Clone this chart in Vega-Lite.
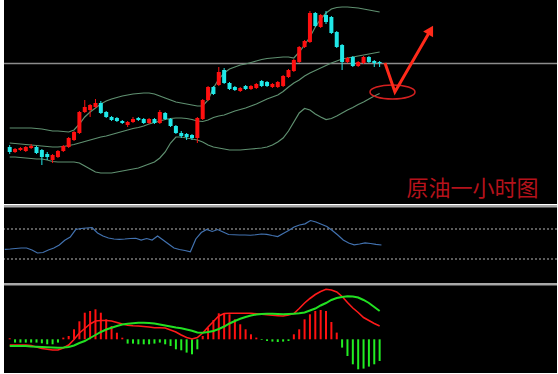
{
  "$schema": "https://vega.github.io/schema/vega-lite/v6.json",
  "background": "#ffffff",
  "padding": {"left": 2, "right": 3, "top": 0, "bottom": 2},
  "spacing": 0,
  "config": {"view": {"stroke": null, "fill": "#000000"}},
  "datasets": {
    "k": [
      {"i":0,"o":57,"c":52,"h":59,"l":50,"up":76,"mid":61,"lo":47,"rsi":42.9,"macd":-5.7,"sig":-6.7,"hist":1},
      {"i":1,"o":52,"c":55,"h":56,"l":51,"up":76,"mid":60.5,"lo":47,"rsi":43.3,"macd":-5.7,"sig":-6.7,"hist":-3.3},
      {"i":2,"o":54,"c":56,"h":57,"l":53,"up":76,"mid":60,"lo":46.5,"rsi":44.0,"macd":-5.7,"sig":-6.7,"hist":-3.3},
      {"i":3,"o":53,"c":57,"h":58,"l":52,"up":76,"mid":59.5,"lo":46,"rsi":44.7,"macd":-5.7,"sig":-6.7,"hist":-3.3},
      {"i":4,"o":56,"c":58,"h":60,"l":55,"up":76,"mid":59,"lo":45.5,"rsi":44.7,"macd":-6.2,"sig":-7.2,"hist":-3.3},
      {"i":5,"o":57,"c":51,"h":58,"l":50,"up":75.5,"mid":58.5,"lo":45,"rsi":42.0,"macd":-7.7,"sig":-7.5,"hist":-3.3},
      {"i":6,"o":54,"c":47,"h":55,"l":39,"up":75,"mid":58,"lo":45,"rsi":38.0,"macd":-9.2,"sig":-7.7,"hist":-4},
      {"i":7,"o":50,"c":47,"h":52,"l":44,"up":74,"mid":57.5,"lo":44,"rsi":38.7,"macd":-10,"sig":-7.9,"hist":-5},
      {"i":8,"o":44,"c":49,"h":50,"l":41,"up":73,"mid":57,"lo":42.5,"rsi":42.0,"macd":-10.7,"sig":-8.2,"hist":-5},
      {"i":9,"o":47,"c":53,"h":54,"l":46,"up":73,"mid":57,"lo":42,"rsi":44.7,"macd":-10.7,"sig":-8.4,"hist":-3.3},
      {"i":10,"o":53,"c":58,"h":59,"l":52,"up":72.5,"mid":57.5,"lo":42,"rsi":48.7,"macd":-8.7,"sig":-8.2,"hist":1.7},
      {"i":11,"o":57,"c":66,"h":67,"l":56,"up":72,"mid":58.5,"lo":42,"rsi":54.9,"macd":-5.7,"sig":-7.7,"hist":3.3},
      {"i":12,"o":64,"c":72,"h":73,"l":63,"up":74,"mid":59.5,"lo":42,"rsi":59.3,"macd":-0.2,"sig":-6.2,"hist":10},
      {"i":13,"o":71,"c":92,"h":93,"l":70,"up":80,"mid":61,"lo":41,"rsi":69.3,"macd":6.3,"sig":-3.7,"hist":18},
      {"i":14,"o":92,"c":97,"h":104,"l":91,"up":87,"mid":62.5,"lo":38,"rsi":70.7,"macd":10.8,"sig":-1.7,"hist":26.6},
      {"i":15,"o":94,"c":99,"h":100,"l":87,"up":92,"mid":64,"lo":35,"rsi":71.3,"macd":15.3,"sig":1.3,"hist":28.3},
      {"i":16,"o":97,"c":101,"h":105,"l":96,"up":96,"mid":65.5,"lo":32,"rsi":72.0,"macd":18.3,"sig":4.3,"hist":30},
      {"i":17,"o":101,"c":91,"h":103,"l":90,"up":100,"mid":67,"lo":31,"rsi":64.7,"macd":18.8,"sig":7.3,"hist":26.6},
      {"i":18,"o":92,"c":87,"h":93,"l":86,"up":103,"mid":68,"lo":31,"rsi":60.7,"macd":18.8,"sig":9.8,"hist":20},
      {"i":19,"o":87,"c":84,"h":88,"l":83,"up":105,"mid":69.5,"lo":31,"rsi":58.0,"macd":18.3,"sig":11.6,"hist":13.3},
      {"i":20,"o":86,"c":83,"h":87,"l":82,"up":106.5,"mid":71,"lo":32,"rsi":56.7,"macd":16.8,"sig":13.3,"hist":6.6},
      {"i":21,"o":83,"c":81,"h":84,"l":80,"up":108,"mid":72.5,"lo":33,"rsi":56.3,"macd":15.3,"sig":14.8,"hist":1.6},
      {"i":22,"o":79,"c":82,"h":83,"l":77,"up":109,"mid":74,"lo":34,"rsi":56.7,"macd":14.1,"sig":15.6,"hist":-4.3},
      {"i":23,"o":82,"c":85,"h":87,"l":81,"up":110,"mid":75.5,"lo":35,"rsi":57.3,"macd":13.6,"sig":16.1,"hist":-4.3},
      {"i":24,"o":86,"c":84,"h":87,"l":83,"up":110.5,"mid":76.5,"lo":36,"rsi":57.6,"macd":13.3,"sig":16.5,"hist":-5},
      {"i":25,"o":85,"c":81,"h":86,"l":80,"up":111,"mid":78,"lo":38,"rsi":55.3,"macd":12.8,"sig":16.6,"hist":-5},
      {"i":26,"o":81,"c":85,"h":86,"l":80,"up":111,"mid":80,"lo":40,"rsi":57.3,"macd":12.3,"sig":16.3,"hist":-5},
      {"i":27,"o":85,"c":81,"h":86,"l":80,"up":110,"mid":81.5,"lo":42,"rsi":55.3,"macd":11.6,"sig":15.8,"hist":-4.3},
      {"i":28,"o":81,"c":92,"h":94,"l":80,"up":108,"mid":83,"lo":46,"rsi":60.7,"macd":11.6,"sig":14.8,"hist":-3.3},
      {"i":29,"o":91,"c":85,"h":92,"l":84,"up":106,"mid":84.5,"lo":52,"rsi":55.3,"macd":11.3,"sig":13.8,"hist":-5},
      {"i":30,"o":85,"c":78,"h":86,"l":77,"up":104,"mid":85.5,"lo":61,"rsi":50.0,"macd":9.3,"sig":12.8,"hist":-6.7},
      {"i":31,"o":78,"c":71,"h":79,"l":70,"up":102,"mid":86,"lo":67,"rsi":44.7,"macd":7.3,"sig":11.8,"hist":-10},
      {"i":32,"o":71,"c":68,"h":73,"l":66,"up":101,"mid":86,"lo":67,"rsi":42.7,"macd":4.3,"sig":11.0,"hist":-11},
      {"i":33,"o":70,"c":67,"h":71,"l":64,"up":100,"mid":85.5,"lo":66,"rsi":41.3,"macd":1.8,"sig":9.8,"hist":-13.3},
      {"i":34,"o":69,"c":66,"h":70,"l":64,"up":99,"mid":84.5,"lo":65,"rsi":39.7,"macd":0.3,"sig":8.5,"hist":-15},
      {"i":35,"o":66,"c":86,"h":87,"l":61,"up":98,"mid":83,"lo":64,"rsi":56.7,"macd":1.8,"sig":6.8,"hist":-10},
      {"i":36,"o":85,"c":104,"h":105,"l":84,"up":98,"mid":82.5,"lo":62,"rsi":65.3,"macd":6.3,"sig":6.6,"hist":3.3},
      {"i":37,"o":104,"c":117,"h":118,"l":103,"up":104,"mid":84,"lo":59,"rsi":69.3,"macd":12.3,"sig":7.3,"hist":11.7},
      {"i":38,"o":117,"c":110,"h":118,"l":109,"up":116,"mid":86.5,"lo":57,"rsi":66.7,"macd":17.8,"sig":8.3,"hist":19.3},
      {"i":39,"o":119,"c":132,"h":137,"l":118,"up":125,"mid":88,"lo":56,"rsi":69.3,"macd":23.3,"sig":10.3,"hist":26},
      {"i":40,"o":134,"c":121,"h":136,"l":120,"up":131,"mid":89,"lo":55,"rsi":66.0,"macd":25.8,"sig":12.8,"hist":26},
      {"i":41,"o":121,"c":115,"h":122,"l":114,"up":135,"mid":91,"lo":54,"rsi":62.7,"macd":26.0,"sig":15.8,"hist":25},
      {"i":42,"o":117,"c":114,"h":118,"l":113,"up":137,"mid":93,"lo":54,"rsi":62.3,"macd":26.0,"sig":18.3,"hist":20},
      {"i":43,"o":113,"c":116,"h":117,"l":112,"up":139,"mid":94.5,"lo":54,"rsi":62.0,"macd":26.0,"sig":20.5,"hist":15},
      {"i":44,"o":118,"c":115,"h":119,"l":114,"up":140,"mid":96,"lo":54.5,"rsi":62.0,"macd":26.0,"sig":22.3,"hist":10},
      {"i":45,"o":115,"c":118,"h":119,"l":114,"up":141.5,"mid":98,"lo":55,"rsi":61.7,"macd":26.0,"sig":23.8,"hist":5},
      {"i":46,"o":116,"c":120,"h":121,"l":115,"up":143,"mid":100,"lo":55.5,"rsi":62.3,"macd":25.5,"sig":24.8,"hist":1.7},
      {"i":47,"o":123,"c":118,"h":124,"l":117,"up":144.5,"mid":102.5,"lo":56,"rsi":63.3,"macd":25.0,"sig":25.3,"hist":-0.7},
      {"i":48,"o":122,"c":118,"h":123,"l":117,"up":145.5,"mid":105,"lo":57,"rsi":62.9,"macd":24.5,"sig":25.5,"hist":-1.7},
      {"i":49,"o":117,"c":120,"h":121,"l":116,"up":146,"mid":107,"lo":59,"rsi":61.3,"macd":24.0,"sig":25.6,"hist":-2.3},
      {"i":50,"o":117,"c":122,"h":123,"l":116,"up":146.5,"mid":109,"lo":62,"rsi":60.0,"macd":23.6,"sig":25.3,"hist":-2.7},
      {"i":51,"o":118,"c":128,"h":129,"l":117,"up":147,"mid":112.5,"lo":66,"rsi":64.0,"macd":23.3,"sig":25.0,"hist":-2.3},
      {"i":52,"o":127,"c":134,"h":135,"l":126,"up":147,"mid":117,"lo":73,"rsi":68.0,"macd":24.3,"sig":25.3,"hist":-1.7},
      {"i":53,"o":133,"c":144,"h":145,"l":132,"up":146,"mid":121,"lo":82,"rsi":72.7,"macd":25.8,"sig":25.6,"hist":5},
      {"i":54,"o":142,"c":157,"h":158,"l":141,"up":152,"mid":124,"lo":91,"rsi":75.3,"macd":30.8,"sig":26.0,"hist":10},
      {"i":55,"o":157,"c":163,"h":164,"l":156,"up":159,"mid":128,"lo":95.5,"rsi":76.9,"macd":36.3,"sig":26.8,"hist":20},
      {"i":56,"o":162,"c":191,"h":193,"l":161,"up":167,"mid":131,"lo":94,"rsi":81.3,"macd":40.8,"sig":28.8,"hist":25},
      {"i":57,"o":191,"c":178,"h":192,"l":177,"up":177,"mid":133.5,"lo":90,"rsi":79.3,"macd":44.8,"sig":30.8,"hist":28.3},
      {"i":58,"o":177,"c":189,"h":190,"l":176,"up":185,"mid":136,"lo":87,"rsi":76.3,"macd":47.8,"sig":33.8,"hist":29.3},
      {"i":59,"o":189,"c":182,"h":193,"l":180,"up":191,"mid":138.5,"lo":84.5,"rsi":73.3,"macd":50.0,"sig":36.3,"hist":28.3},
      {"i":60,"o":187,"c":171,"h":188,"l":170,"up":195,"mid":141,"lo":85.5,"rsi":68.0,"macd":49.3,"sig":39.3,"hist":17.3},
      {"i":61,"o":172,"c":157,"h":173,"l":156,"up":196.5,"mid":143,"lo":88,"rsi":62.0,"macd":47.3,"sig":41.3,"hist":6.7},
      {"i":62,"o":159,"c":142,"h":160,"l":134,"up":197,"mid":145,"lo":91,"rsi":55.3,"macd":42.8,"sig":42.3,"hist":-8.3},
      {"i":63,"o":142,"c":146,"h":147,"l":141,"up":197,"mid":146,"lo":94,"rsi":51.3,"macd":36.8,"sig":43.1,"hist":-16.7},
      {"i":64,"o":147,"c":138,"h":148,"l":137,"up":196.5,"mid":147,"lo":96.5,"rsi":48.9,"macd":31.3,"sig":42.8,"hist":-25},
      {"i":65,"o":138,"c":142,"h":143,"l":137,"up":196,"mid":148,"lo":99.5,"rsi":50.0,"macd":26.8,"sig":41.8,"hist":-30},
      {"i":66,"o":141,"c":147,"h":148,"l":140,"up":195,"mid":149,"lo":102,"rsi":51.6,"macd":21.8,"sig":39.3,"hist":-29.3},
      {"i":67,"o":147,"c":142,"h":148,"l":141,"up":194,"mid":150,"lo":105,"rsi":50.7,"macd":18.8,"sig":36.3,"hist":-27.3},
      {"i":68,"o":143,"c":141,"h":144,"l":137,"up":193,"mid":151,"lo":108,"rsi":49.6,"macd":15.8,"sig":32.3,"hist":-25},
      {"i":69,"o":142,"c":141,"h":143,"l":137,"up":192,"mid":152,"lo":110.5,"rsi":48.7,"macd":13.3,"sig":28.3,"hist":-21.7}
    ]
  },
  "vconcat": [
    {
      "width": 553,
      "height": 204,
      "layer": [
        {
          "data": {"values": [{"p": 140.5}]},
          "mark": {"type": "rule", "color": "#8c8c8c", "strokeWidth": 1.5},
          "encoding": {"y": {"field": "p", "type": "quantitative", "scale": {"domain": [0, 204], "nice": false, "zero": false}, "axis": null}}
        },
        {
          "data": {"name": "k"},
          "mark": {"type": "line", "color": "#5f9070", "strokeWidth": 1.2},
          "encoding": {
            "x": {"field": "i", "type": "quantitative", "scale": {"domain": [-0.13, 101.15], "nice": false, "zero": false}, "axis": null},
            "y": {"field": "up", "type": "quantitative", "scale": {"domain": [0, 204], "nice": false, "zero": false}, "axis": null}
          }
        },
        {
          "data": {"name": "k"},
          "mark": {"type": "line", "color": "#5f9070", "strokeWidth": 1.2},
          "encoding": {
            "x": {"field": "i", "type": "quantitative", "axis": null},
            "y": {"field": "mid", "type": "quantitative", "axis": null}
          }
        },
        {
          "data": {"name": "k"},
          "mark": {"type": "line", "color": "#5f9070", "strokeWidth": 1.2},
          "encoding": {
            "x": {"field": "i", "type": "quantitative", "axis": null},
            "y": {"field": "lo", "type": "quantitative", "axis": null}
          }
        },
        {
          "data": {"name": "k"},
          "mark": {"type": "rule", "strokeWidth": 1},
          "encoding": {
            "x": {"field": "i", "type": "quantitative", "axis": null},
            "y": {"field": "l", "type": "quantitative", "axis": null},
            "y2": {"field": "h"},
            "color": {"condition": {"test": "datum.c >= datum.o", "value": "#ff1010"}, "value": "#20e8e8"}
          }
        },
        {
          "data": {"name": "k"},
          "mark": {"type": "bar", "size": 4},
          "encoding": {
            "x": {"field": "i", "type": "quantitative", "axis": null},
            "y": {"field": "o", "type": "quantitative", "axis": null},
            "y2": {"field": "c"},
            "color": {"condition": {"test": "datum.c >= datum.o", "value": "#ff1010"}, "value": "#20e8e8"}
          }
        },
        {
          "data": {"values": [{"i": 71.4, "p": 112}]},
          "mark": {"type": "point", "shape": "M -1 0 A 1 0.31 0 1 0 1 0 A 1 0.31 0 1 0 -1 0 Z", "size": 2025, "filled": false, "stroke": "#d42020", "strokeWidth": 1.5, "opacity": 1},
          "encoding": {
            "x": {"field": "i", "type": "quantitative", "axis": null},
            "y": {"field": "p", "type": "quantitative", "axis": null}
          }
        },
        {
          "data": {"values": [{"k": 1, "i": 70.0, "p": 141}, {"k": 2, "i": 71.85, "p": 112}, {"k": 3, "i": 78.3, "p": 172}]},
          "mark": {"type": "line", "color": "#ff2a1a", "strokeWidth": 3, "strokeJoin": "miter"},
          "encoding": {
            "x": {"field": "i", "type": "quantitative", "axis": null},
            "y": {"field": "p", "type": "quantitative", "axis": null},
            "order": {"field": "k"}
          }
        },
        {
          "data": {"values": [{"i": 78.5, "p": 174}]},
          "mark": {"type": "point", "shape": "triangle-up", "size": 130, "filled": true, "color": "#ff2a1a", "opacity": 1, "angle": 30},
          "encoding": {
            "x": {"field": "i", "type": "quantitative", "axis": null},
            "y": {"field": "p", "type": "quantitative", "axis": null}
          }
        },
        {
          "data": {"values": [{"i": 74.0, "p": 15, "t": "原油一小时图"}]},
          "mark": {"type": "text", "align": "left", "baseline": "middle", "font": "Noto Sans CJK SC", "fontSize": 22, "color": "#b5121b"},
          "encoding": {
            "x": {"field": "i", "type": "quantitative", "axis": null},
            "y": {"field": "p", "type": "quantitative", "axis": null},
            "text": {"field": "t"}
          }
        }
      ]
    },
    {
      "width": 553,
      "height": 78,
      "layer": [
        {
          "data": {"values": [{"v": 70}, {"v": 30}]},
          "mark": {"type": "rule", "color": "#b8b8b8", "strokeWidth": 1, "strokeDash": [2, 2]},
          "encoding": {"y": {"field": "v", "type": "quantitative", "scale": {"domain": [-2, 102], "nice": false, "zero": false}, "axis": null}}
        },
        {
          "data": {"name": "k"},
          "mark": {"type": "line", "color": "#4272b0", "strokeWidth": 1.2},
          "encoding": {
            "x": {"field": "i", "type": "quantitative", "scale": {"domain": [-0.13, 101.15], "nice": false, "zero": false}, "axis": null},
            "y": {"field": "rsi", "type": "quantitative", "axis": null}
          }
        },
        {
          "data": {"values": [{"v": 100.4}]},
          "mark": {"type": "rule", "color": "#a8a8a8", "strokeWidth": 2.5},
          "encoding": {"y": {"field": "v", "type": "quantitative", "axis": null}}
        }
      ]
    },
    {
      "width": 553,
      "height": 90,
      "layer": [
        {
          "data": {"name": "k"},
          "mark": {"type": "bar", "size": 2},
          "encoding": {
            "x": {"field": "i", "type": "quantitative", "scale": {"domain": [-0.13, 101.15], "nice": false, "zero": false}, "axis": null},
            "y": {"field": "hist", "type": "quantitative", "scale": {"domain": [-33.7, 56.3], "nice": false, "zero": false}, "axis": null},
            "y2": {"datum": 0},
            "color": {"condition": {"test": "datum.hist > 0", "value": "#ff1010"}, "value": "#22ee22"}
          }
        },
        {
          "data": {"name": "k"},
          "mark": {"type": "line", "color": "#ff1a1a", "strokeWidth": 1.6},
          "encoding": {
            "x": {"field": "i", "type": "quantitative", "axis": null},
            "y": {"field": "macd", "type": "quantitative", "axis": null}
          }
        },
        {
          "data": {"name": "k"},
          "mark": {"type": "line", "color": "#22e022", "strokeWidth": 2},
          "encoding": {
            "x": {"field": "i", "type": "quantitative", "axis": null},
            "y": {"field": "sig", "type": "quantitative", "axis": null}
          }
        },
        {
          "data": {"values": [{"v": 55}]},
          "mark": {"type": "rule", "color": "#a8a8a8", "strokeWidth": 2.5},
          "encoding": {"y": {"field": "v", "type": "quantitative", "axis": null}}
        }
      ]
    }
  ]
}
